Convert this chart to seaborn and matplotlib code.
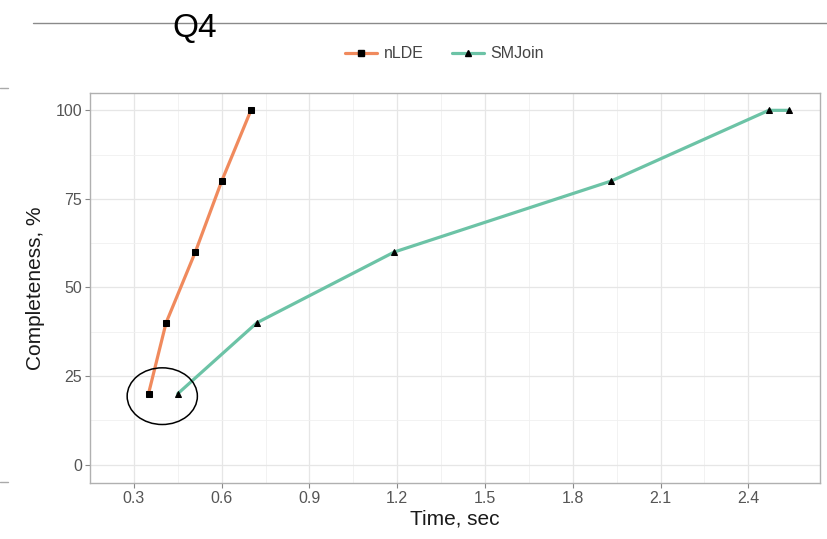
import numpy as np
import pandas as pd
import matplotlib
matplotlib.use("Agg")
import matplotlib.pyplot as plt
import seaborn as sns
from matplotlib.patches import Ellipse
from matplotlib.lines import Line2D

# dati
nlde_time = [0.35, 0.41, 0.51, 0.60, 0.70]
nlde_comp = [20, 40, 60, 80, 100]
smjoin_time = [0.45, 0.72, 1.19, 1.93, 2.47, 2.54]
smjoin_comp = [20, 40, 60, 80, 100, 100]
methods = ["nLDE", "SMJoin"]
x_ticks = [0.3, 0.6, 0.9, 1.2, 1.5, 1.8, 2.1, 2.4]
y_ticks = [0, 25, 50, 75, 100]

df = pd.concat([
    pd.DataFrame({"time": nlde_time, "comp": nlde_comp, "method": "nLDE"}),
    pd.DataFrame({"time": smjoin_time, "comp": smjoin_comp, "method": "SMJoin"}),
], ignore_index=True)

sns.set_theme(style="whitegrid")
plt.rcParams["font.family"] = ["Liberation Sans", "DejaVu Sans"]

colors = {"nLDE": "#F08A5D", "SMJoin": "#6CC3A6"}
markers = {"nLDE": "s", "SMJoin": "^"}

fig = plt.figure(figsize=(8.28, 5.39), dpi=100)
ax = fig.add_axes([0.1087, 0.104, 0.8816, 0.7235])

sns.lineplot(data=df, x="time", y="comp", hue="method", style="method",
             palette=colors, markers=markers, dashes=False, sort=False,
             linewidth=2.3, markersize=5, markerfacecolor="black",
             markeredgecolor="black", legend=False, ax=ax, zorder=3)

# cerchio attorno ai primi punti
ax.add_patch(Ellipse((0.397, 19.3), 0.24, 16, fill=False, edgecolor="black",
                     linewidth=1.1, zorder=4))

ax.set_xlim(0.245, 2.645)
ax.set_ylim(-5.2, 104.9)
ax.set_xticks(x_ticks)
ax.set_xticklabels([f"{v:.1f}" for v in x_ticks])
ax.set_yticks(y_ticks)
ax.set_xticks([v + 0.15 for v in x_ticks[:-1]] + [0.15], minor=True)
ax.set_yticks([12.5, 37.5, 62.5, 87.5], minor=True)
ax.grid(which="major", color="#E6E6E6", linewidth=0.9)
ax.grid(which="minor", color="#F0F0F0", linewidth=0.6)
ax.tick_params(axis="both", which="major", labelsize=11.5, labelcolor="#555555",
               color="#888888", length=3.5, width=0.8, direction="out",
               bottom=True, left=True, pad=2)
ax.tick_params(which="minor", length=0)
for s in ax.spines.values():
    s.set_color("#B0B0B0")
    s.set_linewidth(1.0)

ax.set_xlabel("Time, sec", fontsize=15, color="#1A1A1A", labelpad=3)
ax.set_ylabel("Completeness, %", fontsize=15, color="#1A1A1A", labelpad=8)

handles = [Line2D([], [], color=colors[m], marker=markers[m], lw=2.3, ms=5,
                  mfc="black", mec="black") for m in methods]
fig.legend(handles, methods, loc="center", bbox_to_anchor=(0.537, 0.90), ncol=2,
           frameon=False, fontsize=11.5, handlelength=2.0, handletextpad=0.4,
           columnspacing=1.8, labelcolor="#444444")

# linea in alto con il titolo Q4
fig.add_artist(Line2D([33 / 828, 1.0], [1 - 23 / 539, 1 - 23 / 539],
                      color="#8A8A8A", linewidth=1.0))
fig.add_artist(Line2D([0, 8 / 828], [1 - 88 / 539, 1 - 88 / 539],
                      color="#AAAAAA", linewidth=1.0))
fig.add_artist(Line2D([0, 8 / 828], [1 - 482 / 539, 1 - 482 / 539],
                      color="#AAAAAA", linewidth=1.0))
fig.text(172 / 828, 1 - 37 / 539, "Q4", fontsize=24, color="black",
         ha="left", va="baseline", zorder=5)

fig.savefig("out.png", dpi=100)
